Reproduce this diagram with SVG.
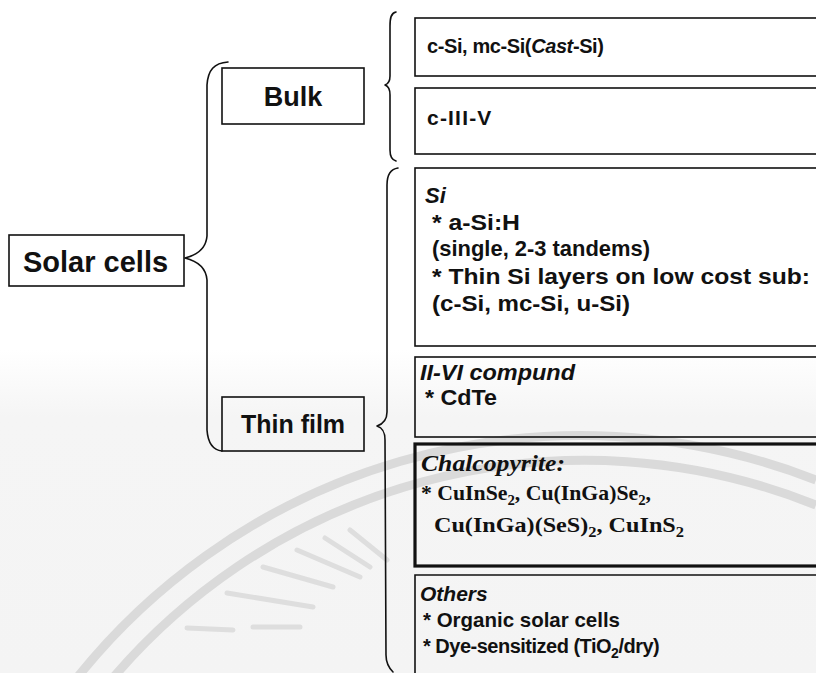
<svg xmlns="http://www.w3.org/2000/svg" width="816" height="673" viewBox="0 0 816 673">
  <defs>
    <linearGradient id="bg" x1="0" y1="0" x2="0" y2="1">
      <stop offset="0" stop-color="#ffffff"/>
      <stop offset="0.52" stop-color="#ffffff"/>
      <stop offset="0.62" stop-color="#f5f5f5"/>
      <stop offset="1" stop-color="#f4f4f4"/>
    </linearGradient>
  </defs>
  <style>
    .box { fill: none; stroke: #111; stroke-width: 1.6; }
    .thick { fill: none; stroke: #111; stroke-width: 3.2; }
    .brace { fill: none; stroke: #111; stroke-width: 1.6; stroke-linejoin: round; stroke-linecap: round; }
    .wm { fill: none; stroke: #dadada; stroke-width: 9; }
    .ray { fill: none; stroke: #dedede; stroke-width: 5; stroke-linecap: round; }
    text { font-family: "Liberation Sans", Arial, sans-serif; font-weight: bold; fill: #111; }
    .serif { font-family: "Liberation Serif", "Times New Roman", serif; font-weight: bold; }
    .it { font-style: italic; }
  </style>
  <rect x="0" y="0" width="816" height="673" fill="url(#bg)"/>
  <g id="watermark">
    <path class="wm" d="M 60 700 A 645 645 0 0 1 816 480"/>
    <path class="wm" d="M 95 700 A 620 620 0 0 1 816 505"/>
    <path class="ray" d="M263,567 L333,587 M297,550 L360,577 M325,538 L370,567 M350,530 L387,560 M227,593 L313,607 M187,628 L233,630 M253,627 L300,627"/>
  </g>

  <g id="connectors">
    <path class="brace" d="M228,62 C214,63 208,70 207,85 L207,236 C206,249 197,255 185,258 C197,261 206,267 207,280 L207,430 C208,444 213,450 222,451"/>
    <path class="brace" d="M396,12 C391,13 390,18 390,26 L390,76 C390,82 388,84 385,85 C388,86 390,89 390,95 L390,150 C390,157 392,160 396,161"/>
    <path class="brace" d="M398,168 C391,169 387,175 387,185 L387,412 C387,420 383,424 377,426 C383,428 385,432 385,440 L386,655 C386,663 389,668 393,672"/>
  </g>

  <g id="solar-cells">
    <rect class="box" x="9" y="235" width="175" height="51"/>
    <text x="23" y="272" font-size="29">Solar cells</text>
  </g>

  <g id="bulk">
    <rect class="box" x="222" y="68" width="142" height="56"/>
    <text x="293" y="106" font-size="27" text-anchor="middle">Bulk</text>
  </g>

  <g id="thin-film">
    <rect class="box" x="222" y="397" width="142" height="54"/>
    <text x="293" y="433" font-size="25" text-anchor="middle">Thin film</text>
  </g>

  <g id="c-si">
    <rect class="box" x="415" y="18" width="420" height="58"/>
    <text x="427" y="53" font-size="20" letter-spacing="-0.4">c-Si, mc-Si(<tspan class="it">Cast</tspan>-Si)</text>
  </g>

  <g id="c-iii-v">
    <rect class="box" x="415" y="88" width="420" height="66"/>
    <text x="427" y="125" font-size="21" letter-spacing="1.2">c-III-V</text>
  </g>

  <g id="si">
    <rect class="box" x="415" y="168" width="420" height="178"/>
    <text x="425" y="203" font-size="22" class="it">Si</text>
    <text x="432" y="230" font-size="22" textLength="88" lengthAdjust="spacingAndGlyphs">* a-Si:H</text>
    <text x="432" y="256" font-size="22" textLength="218" lengthAdjust="spacingAndGlyphs">(single, 2-3 tandems)</text>
    <text x="432" y="284" font-size="22" textLength="378" lengthAdjust="spacingAndGlyphs">* Thin Si layers on low cost sub:</text>
    <text x="432" y="311" font-size="22" textLength="198" lengthAdjust="spacingAndGlyphs">(c-Si, mc-Si, u-Si)</text>
  </g>

  <g id="ii-vi">
    <rect class="box" x="415" y="357" width="420" height="80"/>
    <text x="420" y="380" font-size="22" class="it" textLength="155" lengthAdjust="spacingAndGlyphs">II-VI compund</text>
    <text x="425" y="405" font-size="22" textLength="72" lengthAdjust="spacingAndGlyphs">* CdTe</text>
  </g>

  <g id="chalcopyrite">
    <rect class="thick" x="415" y="444" width="420" height="122"/>
    <text x="421" y="471" font-size="23" class="serif it" textLength="144" lengthAdjust="spacingAndGlyphs">Chalcopyrite:</text>
    <text x="421" y="500" font-size="22" class="serif" textLength="230" lengthAdjust="spacingAndGlyphs">* CuInSe<tspan font-size="15" dy="5">2</tspan><tspan dy="-5">, Cu(InGa)Se</tspan><tspan font-size="15" dy="5">2</tspan><tspan dy="-5">,</tspan></text>
    <text x="434" y="532" font-size="22" class="serif" textLength="250" lengthAdjust="spacingAndGlyphs">Cu(InGa)(SeS)<tspan font-size="15" dy="5">2</tspan><tspan dy="-5">,  CuInS</tspan><tspan font-size="15" dy="5">2</tspan></text>
  </g>

  <g id="others">
    <path class="box" d="M415,690 L415,575 L835,575"/>
    <text x="420" y="601" font-size="21" class="it">Others</text>
    <text x="423" y="627" font-size="21" textLength="197" lengthAdjust="spacingAndGlyphs">* Organic solar cells</text>
    <text x="423" y="653" font-size="20" letter-spacing="-0.5">* Dye-sensitized (TiO<tspan font-size="14" dy="5">2</tspan><tspan dy="-5">/dry)</tspan></text>
  </g>
</svg>
